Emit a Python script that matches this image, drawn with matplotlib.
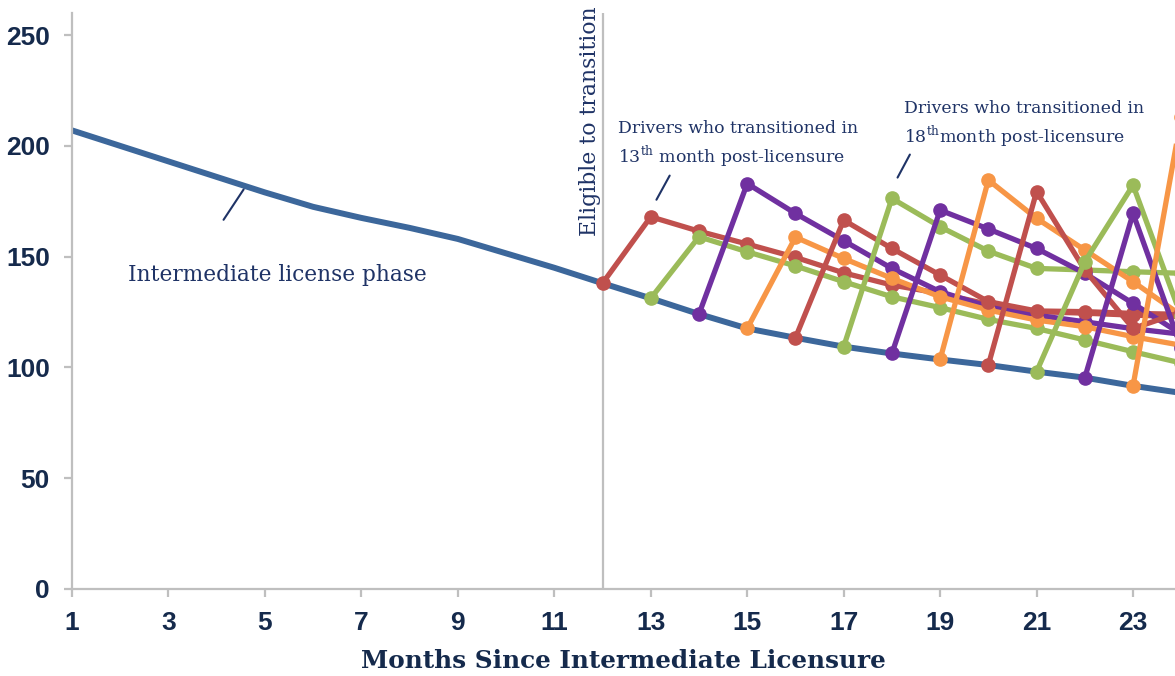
import matplotlib
matplotlib.use("Agg")
import matplotlib.pyplot as plt

# ---------------- data ----------------
months = list(range(1, 25))
intermediate = [207, 200, 193, 186, 179, 172.5, 167.5, 163, 158, 151.5, 145, 138,
                131.2, 124.1, 117.6, 113.4, 109.4, 106.3, 103.6, 101.1, 98.1, 95.4, 91.7, 88.5]

# each cohort starts on the intermediate curve in the month before transition
cohort_start = [12, 13, 14, 15, 16, 17, 18, 19, 20, 21, 22, 23]
trans_13 = [138, 168, 161.5, 155.7, 149.7, 142.7, 137.2, 133.4, 128.5, 125.2, 124.5, 123.6, 123]
trans_14 = [131.2, 159, 152.2, 145.8, 138.7, 131.9, 127, 121.7, 117.6, 112.4, 107.1, 102]
trans_15 = [124.1, 183, 169.5, 157.2, 144.7, 134.2, 127.4, 123.6, 120.6, 117.5, 115]
trans_16 = [117.6, 158.8, 149.2, 140.2, 131.9, 125.9, 121.4, 118.4, 113.9, 110]
trans_17 = [113.4, 166.5, 153.7, 141.7, 129.7, 125.5, 125.2, 124.4, 124]
trans_18 = [109.4, 176.3, 163.5, 152.5, 144.7, 144, 143.2, 142.5]
trans_19 = [106.3, 171, 162.5, 153.7, 142.5, 128.9, 115]
trans_20 = [103.6, 184.6, 167.3, 153, 138.7, 123.5]
trans_21 = [101.1, 179.4, 144, 117.6, 125]
trans_22 = [98.1, 147.7, 182.3, 123]
trans_23 = [95.4, 169.5, 109]
trans_24 = [91.7, 213]
cohorts = [trans_13, trans_14, trans_15, trans_16, trans_17, trans_18,
           trans_19, trans_20, trans_21, trans_22, trans_23, trans_24]

x_ticks = list(range(1, 24, 2))
y_ticks = [0, 50, 100, 150, 200, 250]

# ---------------- style ----------------
BLUE = "#3C679B"
CYCLE = ["#C0504D", "#9BBB59", "#7030A0", "#F79646"]
NAVY = "#152A4C"
ANN = "#1F3366"
GRAY = "#BFBFBF"

plt.rcParams['mathtext.fontset'] = 'custom'
plt.rcParams['mathtext.rm'] = 'DejaVu Serif'

fig = plt.figure(figsize=(11.75, 6.76), dpi=100)
ax = fig.add_axes([0.0613, 0.1287, 1.0 - 0.0613, 0.9808 - 0.1287])

ax.plot(months, intermediate, color=BLUE, lw=4.3, solid_joinstyle='round', zorder=2)

for i, (start, vals) in enumerate(zip(cohort_start, cohorts)):
    xs = list(range(start, start + len(vals)))
    ax.plot(xs, vals, color=CYCLE[i % 4], lw=3.8, marker='o', ms=9.5,
            solid_joinstyle='round', zorder=3 + i, clip_on=True)

# eligibility line
ax.axvline(12, color=GRAY, lw=1.6, zorder=1)

ax.set_xlim(1, 23.87)
ax.set_ylim(0, 260)
ax.set_xticks(x_ticks)
ax.set_yticks(y_ticks)

for s in ['top', 'right']:
    ax.spines[s].set_visible(False)
for s in ['left', 'bottom']:
    ax.spines[s].set_color(GRAY)
    ax.spines[s].set_linewidth(1.6)

ax.tick_params(axis='both', colors=GRAY, length=6, width=1.6, direction='out')
ax.tick_params(axis='both', labelcolor=NAVY, labelsize=19, pad=10)
for lab in ax.get_xticklabels() + ax.get_yticklabels():
    lab.set_fontweight('bold')
    lab.set_family('Liberation Sans')

ax.set_xlabel("Months Since Intermediate Licensure", fontsize=17.8, fontweight='bold',
              family='DejaVu Serif', color=NAVY, labelpad=10)

# annotations
ax.text(2.16, 141.7, "Intermediate license phase", fontsize=15.6, family='DejaVu Serif',
        color=ANN, ha='left', va='center')
ax.annotate("", xy=(4.11, 165.6), xytext=(4.59, 181.4),
            arrowprops=dict(arrowstyle='-', color=ANN, lw=1.5))

ax.text(11.74, 159.5, "Eligible to transition", fontsize=15.8, family='DejaVu Serif',
        color=ANN, ha='center', va='bottom', rotation=90)

ax.text(12.32, 211.5, "Drivers who transitioned in\n13$^{\\mathrm{th}}$ month post-licensure",
        fontsize=12.4, family='DejaVu Serif', color=ANN, ha='left', va='top', linespacing=1.3)
ax.annotate("", xy=(13.09, 174.6), xytext=(13.42, 187.7),
            arrowprops=dict(arrowstyle='-', color=ANN, lw=1.5))

ax.text(18.25, 220.5, "Drivers who transitioned in\n18$^{\\mathrm{th}}$month post-licensure",
        fontsize=12.4, family='DejaVu Serif', color=ANN, ha='left', va='top', linespacing=1.3)
ax.annotate("", xy=(18.09, 184.6), xytext=(18.40, 197.2),
            arrowprops=dict(arrowstyle='-', color=ANN, lw=1.5))

fig.savefig("out.png", dpi=100)
